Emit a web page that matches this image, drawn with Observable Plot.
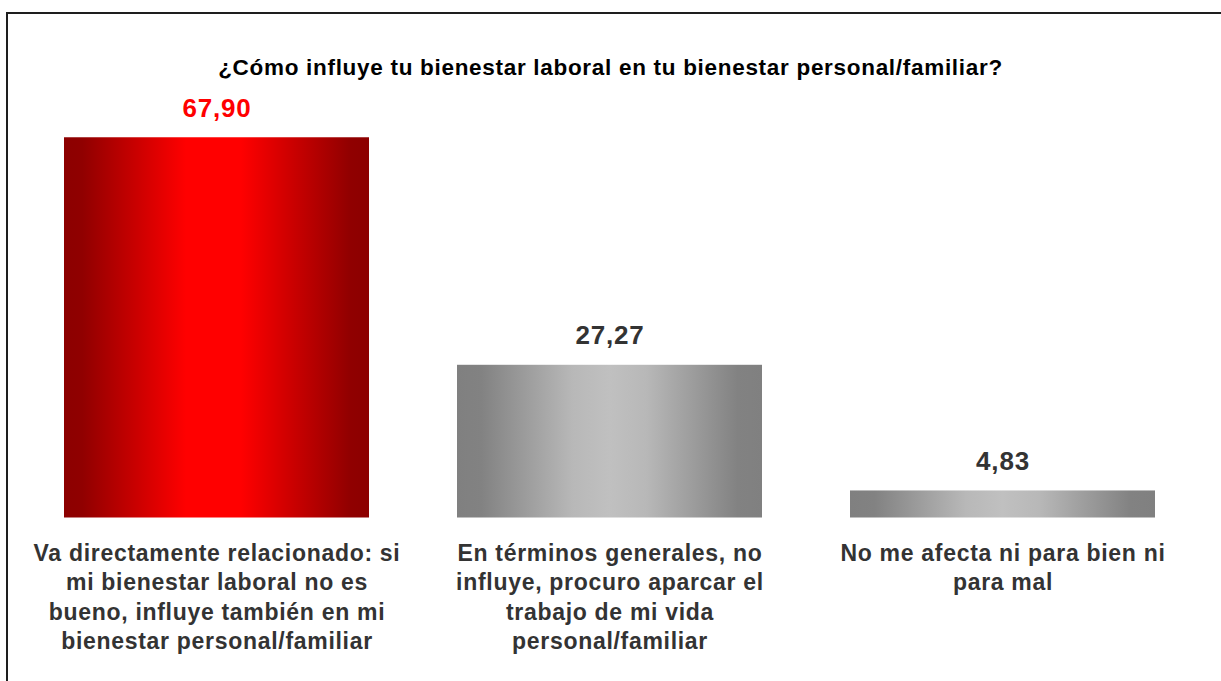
<!DOCTYPE html>
<html><head><meta charset="utf-8">
<script src="https://cdn.jsdelivr.net/npm/d3@7"></script>
<script src="https://cdn.jsdelivr.net/npm/@observablehq/plot@0.6"></script>
<style>
html,body{margin:0;padding:0;background:#fff;width:1221px;height:681px;overflow:hidden;}
#frame{position:absolute;left:6px;top:12px;width:1400px;height:900px;border:2px solid #1e1e1e;box-sizing:border-box;}
#title{position:absolute;left:0;top:57px;width:1221px;text-align:center;font-family:"Liberation Sans",Arial,sans-serif;font-weight:bold;font-size:22.5px;line-height:1;letter-spacing:0.7px;color:#000;white-space:nowrap;}
#chart{position:absolute;left:0;top:0;}
g[aria-description="values"] text{letter-spacing:0.8px;}
g[aria-description="categories"] text{letter-spacing:0.7px;}
</style></head><body>
<div id="frame"></div>
<div id="title">¿Cómo influye tu bienestar laboral en tu bienestar personal/familiar?</div>
<div id="chart"></div>
<script>
const categories = [
  "Va directamente relacionado: si\nmi bienestar laboral no es\nbueno, influye también en mi\nbienestar personal/familiar",
  "En términos generales, no\ninfluye, procuro aparcar el\ntrabajo de mi vida\npersonal/familiar",
  "No me afecta ni para bien ni\npara mal"
];
const values = [67.90, 27.27, 4.83];
const valueLabels = ["67,90", "27,27", "4,83"];
const barFills = ["url(#gRed)", "url(#gGray)", "url(#gGray)"];
const labelColors = ["#ff0000", "#333333", "#333333"];

const data = categories.map((c, i) => ({cat: c, value: values[i], label: valueLabels[i], fill: barFills[i], color: labelColors[i]}));

function gradients() {
  const ns = "http://www.w3.org/2000/svg";
  const defs = document.createElementNS(ns, "defs");
  const mk = (id, stops) => {
    const lg = document.createElementNS(ns, "linearGradient");
    lg.setAttribute("id", id);
    lg.setAttribute("x1", "0"); lg.setAttribute("x2", "1");
    lg.setAttribute("y1", "0"); lg.setAttribute("y2", "0");
    for (const [o, c] of stops) {
      const s = document.createElementNS(ns, "stop");
      s.setAttribute("offset", o);
      s.setAttribute("stop-color", c);
      lg.appendChild(s);
    }
    defs.appendChild(lg);
  };
  mk("gRed", [[0, "#8c0000"], [0.06, "#900000"], [0.4, "#ff0000"], [0.58, "#ff0000"], [0.94, "#900000"], [1, "#8c0000"]]);
  mk("gGray", [[0, "#808080"], [0.08, "#828282"], [0.38, "#b8b8b8"], [0.5, "#c0c0c0"], [0.62, "#b8b8b8"], [0.92, "#828282"], [1, "#808080"]]);
  return defs;
}

const chart = Plot.plot({
  width: 1221,
  height: 681,
  marginLeft: 63,
  marginRight: 66,
  marginTop: 125.5,
  marginBottom: 163.5,
  style: {fontFamily: "'Liberation Sans', Arial, sans-serif", background: "transparent", overflow: "visible"},
  x: {domain: categories, axis: null, paddingInner: 0.225, paddingOuter: 0},
  y: {domain: [0, 70], axis: null},
  color: {type: "identity"},
  marks: [
    gradients,
    Plot.barY(data, {x: "cat", y: "value", fill: "fill"}),
    Plot.text(data, {x: "cat", y: "value", text: "label", fill: "color", lineAnchor: "bottom", dy: -21, fontSize: 26, fontWeight: "bold", ariaDescription: "values"}),
    Plot.text(data, {x: "cat", y: 0, text: "cat", fill: "#333333", lineAnchor: "top", dy: 22.5, fontSize: 23, fontWeight: "bold", lineHeight: 1.27, ariaDescription: "categories"})
  ]
});
document.getElementById("chart").appendChild(chart);
</script>
</body></html>
